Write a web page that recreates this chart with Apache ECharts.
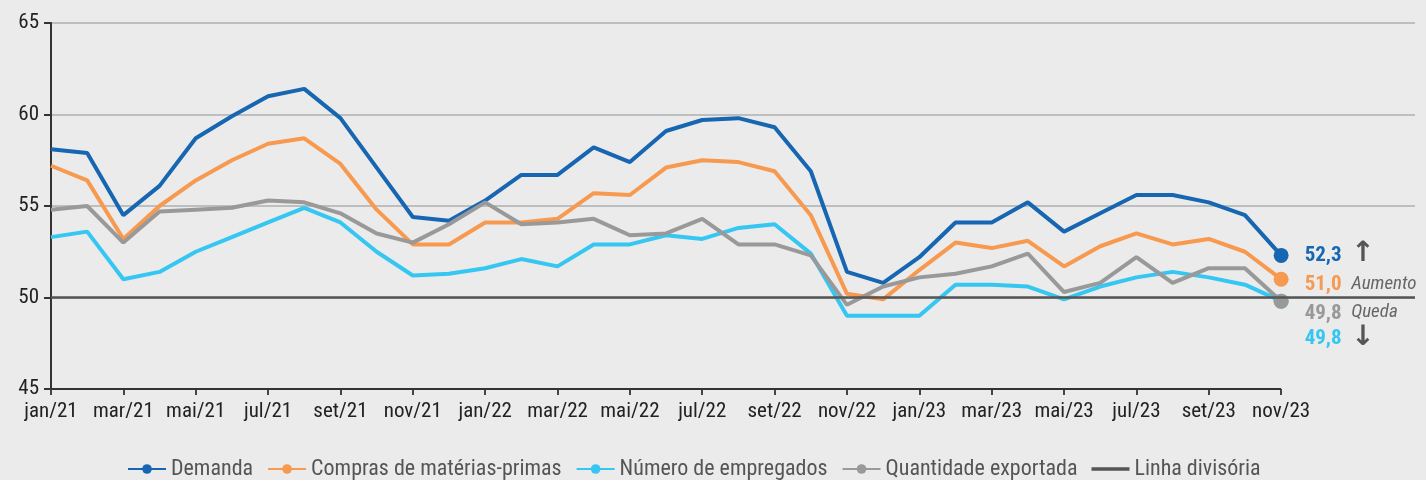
<!DOCTYPE html>
<html>
<head>
<meta charset="utf-8">
<script src="https://cdn.jsdelivr.net/npm/echarts@6/dist/echarts.min.js"></script>
<style>
html,body{margin:0;padding:0;background:#ebebeb;}
#c{width:1426px;height:480px;}
</style>
</head>
<body>
<div id="c"></div>
<script>
var categories = ['jan/21','fev/21','mar/21','abr/21','mai/21','jun/21','jul/21','ago/21','set/21','out/21','nov/21','dez/21',
  'jan/22','fev/22','mar/22','abr/22','mai/22','jun/22','jul/22','ago/22','set/22','out/22','nov/22','dez/22',
  'jan/23','fev/23','mar/23','abr/23','mai/23','jun/23','jul/23','ago/23','set/23','out/23','nov/23'];
var demanda = [58.1,57.9,54.5,56.1,58.7,59.9,61.0,61.4,59.8,57.1,54.4,54.2,
  55.3,56.7,56.7,58.2,57.4,59.1,59.7,59.8,59.3,56.9,51.4,50.8,
  52.2,54.1,54.1,55.2,53.6,54.6,55.6,55.6,55.2,54.5,52.3];
var compras = [57.2,56.4,53.2,55.0,56.4,57.5,58.4,58.7,57.3,54.8,52.9,52.9,
  54.1,54.1,54.3,55.7,55.6,57.1,57.5,57.4,56.9,54.5,50.2,49.9,
  51.5,53.0,52.7,53.1,51.7,52.8,53.5,52.9,53.2,52.5,51.0];
var empregados = [53.3,53.6,51.0,51.4,52.5,53.3,54.1,54.9,54.1,52.5,51.2,51.3,
  51.6,52.1,51.7,52.9,52.9,53.4,53.2,53.8,54.0,52.4,49.0,49.0,
  49.0,50.7,50.7,50.6,49.9,50.6,51.1,51.4,51.1,50.7,49.8];
var exportada = [54.8,55.0,53.0,54.7,54.8,54.9,55.3,55.2,54.6,53.5,53.0,54.0,
  55.2,54.0,54.1,54.3,53.4,53.5,54.3,52.9,52.9,52.3,49.6,50.6,
  51.1,51.3,51.7,52.4,50.3,50.8,52.2,50.8,51.6,51.6,49.8];
var divisoria = 50;
var yTicks = [45,50,55,60,65];

var FONT = '"Liberation Sans Narrow","Roboto Condensed","DejaVu Sans Condensed","Noto Sans",sans-serif';
var last = categories.length - 1;
var tickVals = [];
for (var i = 0; i <= last; i += 2) tickVals.push(i);

function fmt(v){ return v.toFixed(1).replace('.', ','); }

function mkData(arr, color, offY){
  return arr.map(function(v, i){
    if (i === last) {
      return {
        value: [i, v],
        symbolSize: 15,
        label: {
          show: true, position: 'right', distance: 16, offset: [0, offY],
          formatter: fmt(v), color: color, fontWeight: 'bold', fontSize: 21, fontFamily: FONT
        }
      };
    }
    return { value: [i, v], symbolSize: 0 };
  });
}

function mkSeries(name, arr, color, offY){
  return {
    name: name, type: 'line', data: mkData(arr, color, offY),
    symbol: 'circle', showSymbol: true, color: color,
    lineStyle: { width: 4, color: color }, itemStyle: { color: color },
    z: 3, silent: true, animation: false
  };
}

var chart = echarts.init(document.getElementById('c'));
var option = {
  backgroundColor: '#ebebeb',
  animation: false,
  textStyle: { fontFamily: FONT },
  grid: { left: 51, top: 23, right: 11, bottom: 91, containLabel: false },
  legend: {
    top: 453, left: 122, itemGap: 14, itemWidth: 38, itemHeight: 12,
    textStyle: { fontSize: 22, color: '#555', fontFamily: FONT },
    data: ['Demanda','Compras de matérias-primas','Número de empregados','Quantidade exportada',
      { name: 'Linha divisória', icon: 'path://M0,0 L40,0 L40,3.5 L0,3.5 Z' }]
  },
  xAxis: {
    type: 'value', min: 0, max: 37.7, interval: 2,
    axisLine: { show: false },
    axisTick: { show: true, length: 6, customValues: tickVals, lineStyle: { color: '#444', width: 2 } },
    axisLabel: { customValues: tickVals, formatter: function(v){ return categories[v] || ''; },
      fontSize: 21, color: '#222', fontFamily: FONT, margin: 12 },
    splitLine: { show: false }
  },
  yAxis: {
    type: 'value', min: yTicks[0], max: yTicks[yTicks.length-1], interval: 5,
    axisLine: { show: true, lineStyle: { color: '#333', width: 2 } },
    axisTick: { show: true, length: 7, lineStyle: { color: '#333', width: 2 } },
    axisLabel: { fontSize: 21, color: '#222', fontFamily: FONT, margin: 12 },
    splitLine: { show: true, showMinLine: false, lineStyle: { color: '#bcbfbf', width: 2 } }
  },
  series: [
    {
      name: 'Linha divisória', type: 'line', data: [], symbol: 'none', color: '#555',
      lineStyle: { width: 3, color: '#555' }, z: 1,
      markLine: {
        silent: true, symbol: 'none', label: { show: false },
        lineStyle: { color: '#555', width: 2.5, type: 'solid' },
        data: [
          { yAxis: divisoria },
          [ { coord: [0, yTicks[0]] }, { coord: [last, yTicks[0]], lineStyle: { color: '#333', width: 2 } } ]
        ]
      }
    },
    mkSeries('Demanda', demanda, '#1766b2', 0),
    mkSeries('Compras de matérias-primas', compras, '#f7994f', 6),
    mkSeries('Número de empregados', empregados, '#36c6f2', 38),
    mkSeries('Quantidade exportada', exportada, '#999999', 13)
  ]
};
chart.setOption(option);

// annotations next to the end labels
var pUp = chart.convertToPixel({gridIndex:0}, [last, demanda[last]]);
var pAum = chart.convertToPixel({gridIndex:0}, [last, compras[last]]);
var pDiv = chart.convertToPixel({gridIndex:0}, [last, divisoria]);
var ax = pUp[0] + 70;
chart.setOption({
  graphic: [
    { type: 'text', left: ax, top: pUp[1] - 16, style: { text: '↑', fontSize: 28, fontWeight: 'bold', fill: '#555', fontFamily: 'DejaVu Sans' } },
    { type: 'text', left: ax, top: pAum[1] - 4, style: { text: 'Aumento', fontSize: 19, fontStyle: 'italic', fill: '#666', fontFamily: FONT } },
    { type: 'text', left: ax, top: pDiv[1] + 5, style: { text: 'Queda', fontSize: 19, fontStyle: 'italic', fill: '#666', fontFamily: FONT } },
    { type: 'text', left: ax, top: pDiv[1] + 26, style: { text: '↓', fontSize: 28, fontWeight: 'bold', fill: '#555', fontFamily: 'DejaVu Sans' } }
  ]
});
</script>
</body>
</html>
